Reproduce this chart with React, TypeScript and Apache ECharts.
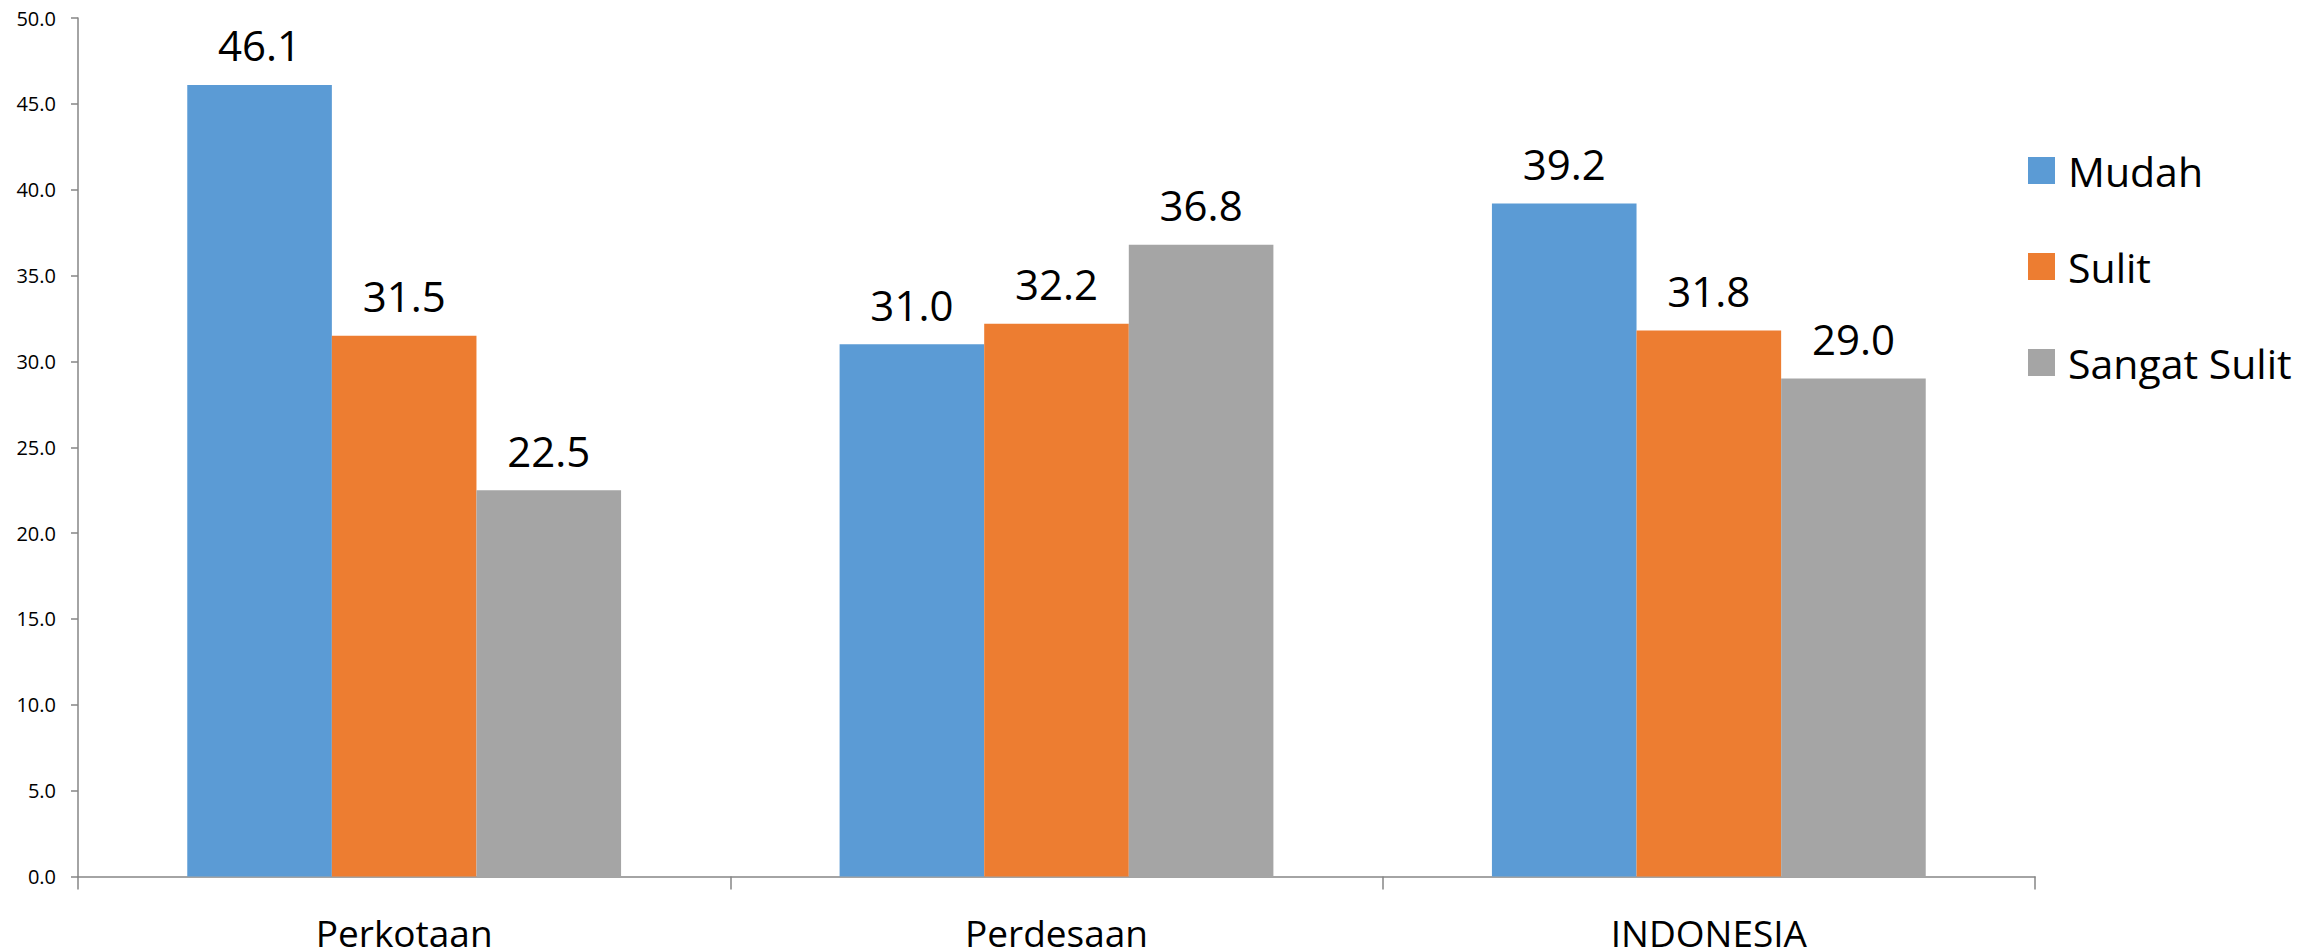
import React, { useEffect, useRef } from "react";
import * as echarts from "echarts";

const categories = ["Perkotaan", "Perdesaan", "INDONESIA"];
const seriesNames = ["Mudah", "Sulit", "Sangat Sulit"];
const mudah = [46.1, 31.0, 39.2];
const sulit = [31.5, 32.2, 31.8];
const sangatSulit = [22.5, 36.8, 29.0];
const colors = ["#5B9BD5", "#ED7D31", "#A5A5A5"];

const FONT = "'Open Sans', 'Noto Sans', sans-serif";

export default function App() {
  const ref = useRef<HTMLDivElement>(null);
  useEffect(() => {
    if (!ref.current) return;
    const chart = echarts.init(ref.current, null, { renderer: "svg" });
    const values = [mudah, sulit, sangatSulit];
    chart.setOption({
      animation: false,
      backgroundColor: "#ffffff",
      textStyle: { fontFamily: FONT },
      grid: { left: 78, right: 283, top: 18, bottom: 72, containLabel: false },
      legend: {
        orient: "vertical",
        left: 2023,
        top: 145,
        itemWidth: 27,
        itemHeight: 27,
        itemGap: 55,
        icon: "rect",
        data: seriesNames,
        textStyle: {
          fontFamily: FONT,
          fontSize: 41,
          lineHeight: 41,
          color: "#000",
          padding: [0, 0, 0, 8],
        },
      },
      xAxis: {
        type: "category",
        data: categories,
        axisLine: { lineStyle: { color: "#868686", width: 1.5 } },
        axisTick: { show: true, length: 13, lineStyle: { color: "#868686", width: 1.5 } },
        axisLabel: { fontFamily: FONT, fontSize: 37, lineHeight: 30, color: "#000", margin: 41 },
      },
      yAxis: {
        type: "value",
        min: 0,
        max: 50,
        interval: 5,
        splitLine: { show: false },
        axisLine: { show: true, lineStyle: { color: "#868686", width: 1.5 } },
        axisTick: { show: true, length: 7, lineStyle: { color: "#868686", width: 1.5 } },
        axisLabel: {
          fontFamily: FONT,
          fontSize: 20,
          color: "#000",
          margin: 22,
          formatter: (v: number) => v.toFixed(1),
        },
      },
      series: seriesNames.map((name, i) => ({
        name,
        type: "bar",
        data: values[i],
        barGap: "0%",
        barCategoryGap: "33.5%",
        itemStyle: { color: colors[i] },
        label: {
          show: true,
          position: "top",
          distance: 19,
          fontFamily: FONT,
          fontSize: 42,
          color: "#000",
          formatter: (p: any) => Number(p.value).toFixed(1),
        },
      })),
    });
    return () => chart.dispose();
  }, []);
  return (
    <div
      ref={ref}
      style={{ position: "fixed", left: 0, top: 0, width: 2318, height: 951 }}
    />
  );
}
